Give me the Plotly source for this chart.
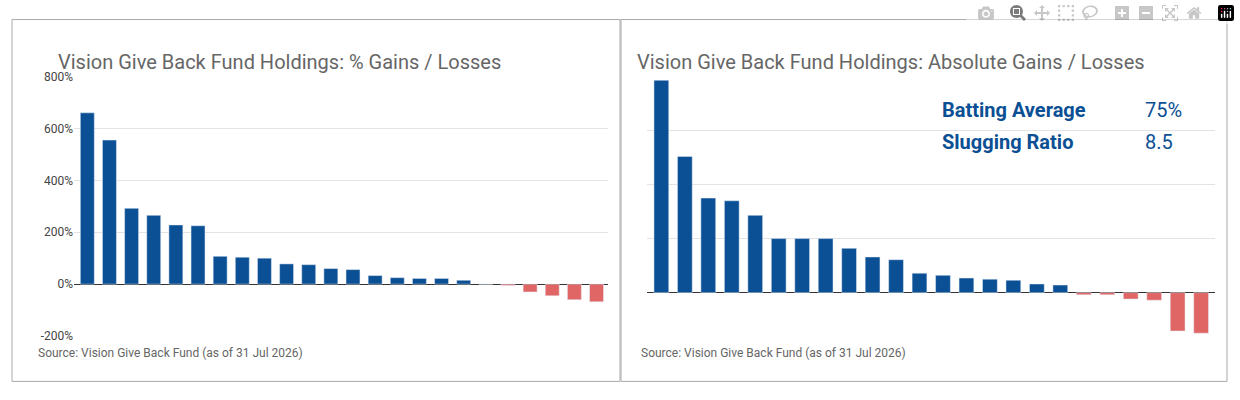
import plotly.graph_objects as go

# left chart: % gains / losses per holding (sorted)
pct_gains = [660, 555, 292, 265, 228, 225, 107, 104, 100, 78, 75, 60, 56, 33, 25, 22, 22, 15,
             0, -5, -30, -45, -60, -68]
pct_ticks = [-200, 0, 200, 400, 600, 800]
pct_labels = ['-200%', '0%', '200%', '400%', '600%', '800%']

# right chart: absolute gains / losses (gridline units, no labels shown)
abs_gains = [3.93, 2.52, 1.75, 1.70, 1.43, 1.0, 1.0, 1.0, 0.82, 0.66, 0.61, 0.36, 0.32, 0.27,
             0.25, 0.23, 0.16, 0.14, -0.04, -0.04, -0.12, -0.14, -0.71, -0.75]

BLUE = '#0b4f94'
RED = '#e06666'
GREY = '#666666'
FONT = 'Roboto'


def colors(vals):
    return [BLUE if v >= 0 else RED for v in vals]


fig = go.Figure()
fig.add_trace(go.Bar(x=list(range(len(pct_gains))), y=pct_gains, marker_color=colors(pct_gains),
                     width=0.63, xaxis='x', yaxis='y', showlegend=False))
fig.add_trace(go.Bar(x=list(range(len(abs_gains))), y=abs_gains, marker_color=colors(abs_gains),
                     width=0.63, xaxis='x2', yaxis='y2', showlegend=False))

grid = dict(showgrid=True, gridcolor='#e3e3e3', zeroline=True, zerolinecolor='#333333',
            zerolinewidth=1)
fig.update_layout(
    width=1240, height=400,
    margin=dict(l=0, r=0, t=0, b=0),
    paper_bgcolor='white', plot_bgcolor='white',
    font=dict(family=FONT, color=GREY),
    xaxis=dict(domain=[0.0597, 0.490], range=[-0.6, 23.5], visible=False),
    yaxis=dict(domain=[0.1475, 0.82], range=[-200, 800], tickvals=pct_ticks,
               ticktext=pct_labels, tickfont=dict(size=12, color='#444'), ticklen=0, **grid),
    xaxis2=dict(domain=[0.522, 0.98], range=[-0.6, 23.6], visible=False, anchor='y2'),
    yaxis2=dict(domain=[0.12, 0.82], range=[-1, 4], dtick=1, showticklabels=False,
                anchor='x2', **grid),
    bargap=0.3,
)

# panel borders
for x0, x1 in [(12 / 1240, 620 / 1240), (621 / 1240, 1227 / 1240)]:
    fig.add_shape(type='rect', xref='paper', yref='paper', x0=x0, x1=x1,
                  y0=1 - 388 / 400, y1=1 - 13 / 400, line=dict(color='#aaaaaa', width=1))

fig.add_annotation(x=56 / 1240, y=1 - 42 / 400, xref='paper', yref='paper', xanchor='left',
                   text='Vision Give Back Fund Holdings: % Gains / Losses', showarrow=False,
                   font=dict(size=20, color=GREY))
fig.add_annotation(x=635 / 1240, y=1 - 42 / 400, xref='paper', yref='paper', xanchor='left',
                   text='Vision Give Back Fund Holdings: Absolute Gains / Losses', showarrow=False,
                   font=dict(size=20, color=GREY))
for x in [36 / 1240, 639 / 1240]:
    fig.add_annotation(x=x, y=1 - 368 / 400, xref='paper', yref='paper', xanchor='left',
                       text='Source: Vision Give Back Fund (as of 31 Jul 2026)', showarrow=False,
                       font=dict(size=12, color=GREY))

fig.add_annotation(x=940 / 1240, y=1 - 92 / 400, xref='paper', yref='paper', xanchor='left',
                   text='<b>Batting Average</b>', showarrow=False, font=dict(size=20, color=BLUE))
fig.add_annotation(x=1143 / 1240, y=1 - 92 / 400, xref='paper', yref='paper', xanchor='left',
                   text='75%', showarrow=False, font=dict(size=20, color=BLUE))
fig.add_annotation(x=940 / 1240, y=1 - 125 / 400, xref='paper', yref='paper', xanchor='left',
                   text='<b>Slugging Ratio</b>', showarrow=False, font=dict(size=20, color=BLUE))
fig.add_annotation(x=1143 / 1240, y=1 - 125 / 400, xref='paper', yref='paper', xanchor='left',
                   text='8.5', showarrow=False, font=dict(size=20, color=BLUE))

fig.write_html("out.html", post_script="document.body.style.margin='0';")
